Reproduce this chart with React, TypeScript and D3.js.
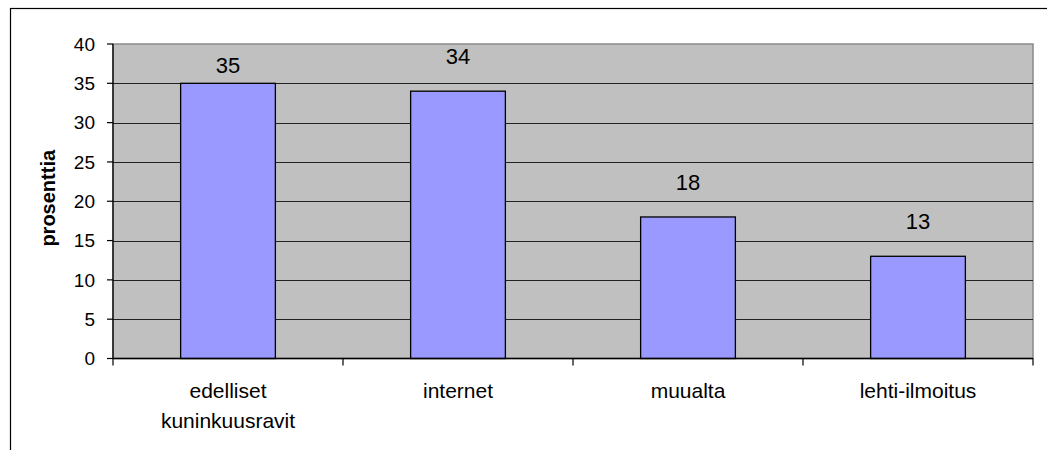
import React from "react";
import * as d3 from "d3";

const categories: string[][] = [
  ["edelliset", "kuninkuusravit"],
  ["internet"],
  ["muualta"],
  ["lehti-ilmoitus"],
];
const values: number[] = [35, 34, 18, 13];
const yTicks: number[] = [0, 5, 10, 15, 20, 25, 30, 35, 40];
const yTitle = "prosenttia";

const W = 1047;
const H = 450;
const plot = { left: 113, top: 44, right: 1033, bottom: 358.5 };
const FONT = "'Liberation Sans', Arial, sans-serif";

export default function App() {
  const x = d3
    .scaleBand<number>()
    .domain(values.map((_, i) => i))
    .range([plot.left, plot.right])
    .padding(0);
  const y = d3.scaleLinear().domain([0, 40]).range([plot.bottom, plot.top]);
  const barW = x.bandwidth() * 0.412;
  const boundaries = d3.range(values.length + 1).map((i) => plot.left + i * x.step());

  // value label centre: above the bar, pulled down if it would leave the plot
  const labelY = (v: number) => {
    const cy = y(v) - 35;
    return cy - 10 < plot.top ? y(v) - 18 : cy;
  };

  return (
    <svg
      width={W}
      height={H}
      style={{ position: "absolute", left: 0, top: 0, background: "#fff" }}
      fontFamily={FONT}
    >
      {/* chart frame */}
      <rect x={10.5} y={8.5} width={W + 20} height={H + 20} fill="#fff" stroke="#000" strokeWidth={1.2} />

      {/* plot area */}
      <rect
        x={plot.left}
        y={plot.top}
        width={plot.right - plot.left}
        height={plot.bottom - plot.top}
        fill="#C0C0C0"
        stroke="#8a8a8a"
        strokeWidth={1.5}
      />

      {/* gridlines */}
      {yTicks.slice(1, -1).map((t) => (
        <line key={t} x1={plot.left} x2={plot.right} y1={Math.round(y(t)) + 0.5} y2={Math.round(y(t)) + 0.5} stroke="#222" strokeWidth={1} />
      ))}

      {/* bars */}
      {values.map((v, i) => {
        const cx = (x(i) as number) + x.bandwidth() / 2;
        return (
          <rect
            key={i}
            x={cx - barW / 2}
            y={y(v)}
            width={barW}
            height={y(0) - y(v)}
            fill="#9999FF"
            stroke="#000"
            strokeWidth={1.3}
          />
        );
      })}

      {/* value labels */}
      {values.map((v, i) => {
        const cx = (x(i) as number) + x.bandwidth() / 2;
        return (
          <text key={i} x={cx} y={labelY(v)} dy="0.36em" textAnchor="middle" fontSize={22} fill="#000">
            {v}
          </text>
        );
      })}

      {/* y axis */}
      <line x1={plot.left} x2={plot.left} y1={plot.top} y2={plot.bottom + 0.5} stroke="#000" strokeWidth={1.3} />
      {yTicks.map((t) => (
        <g key={t}>
          <line x1={plot.left - 6} x2={plot.left} y1={y(t)} y2={y(t)} stroke="#000" strokeWidth={1.2} />
          <text x={95} y={y(t)} dy="0.36em" textAnchor="end" fontSize={19} fill="#000">
            {t}
          </text>
        </g>
      ))}

      {/* x axis */}
      <line x1={plot.left} x2={plot.right} y1={plot.bottom} y2={plot.bottom} stroke="#000" strokeWidth={1.5} />
      {boundaries.map((bx, i) => (
        <line key={i} x1={bx} x2={bx} y1={plot.bottom} y2={plot.bottom + 7} stroke="#000" strokeWidth={1.2} />
      ))}
      {categories.map((lines, i) => {
        const cx = (x(i) as number) + x.bandwidth() / 2;
        return (
          <text key={i} x={cx} y={398} textAnchor="middle" fontSize={21} fill="#000">
            {lines.map((ln, j) => (
              <tspan key={j} x={cx} y={398 + j * 30}>
                {ln}
              </tspan>
            ))}
          </text>
        );
      })}

      {/* y axis title */}
      <text
        transform={`translate(48, ${(plot.top + plot.bottom) / 2 - 3}) rotate(-90)`}
        textAnchor="middle"
        dy="0.36em"
        fontSize={20}
        fontWeight="bold"
        fill="#000"
      >
        {yTitle}
      </text>
    </svg>
  );
}
